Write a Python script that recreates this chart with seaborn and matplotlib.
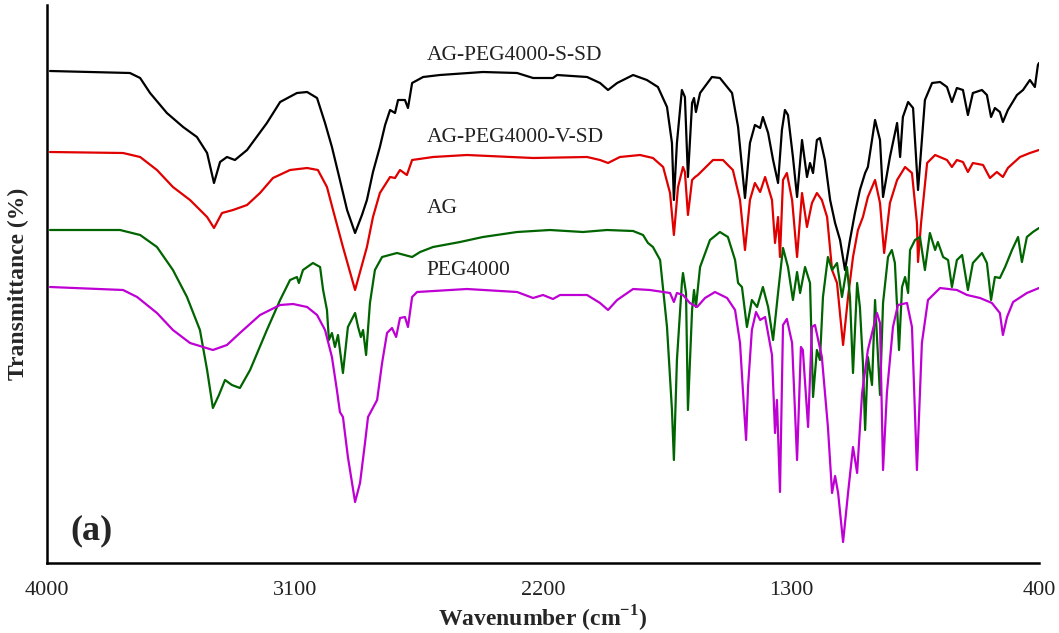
import matplotlib
matplotlib.use("Agg")
import matplotlib.pyplot as plt
import seaborn as sns

# ---- data (wavenumber in cm-1, transmittance in arbitrary offset units) ----
s_sd_wn = [3989, 3699, 3662, 3626, 3565, 3506, 3456, 3419, 3394, 3372, 3347, 3318, 3274, 3202, 3154,
           3093, 3056, 3020, 2991, 2966, 2937, 2911, 2882, 2857, 2839, 2817, 2792, 2773, 2755, 2737,
           2726, 2701, 2690, 2675, 2635, 2574, 2418, 2294, 2236, 2164, 2149, 2040, 1993, 1964, 1931,
           1873, 1823, 1783, 1750, 1732, 1725, 1714, 1696, 1685, 1674, 1659, 1652, 1645, 1630, 1587,
           1558, 1514, 1492, 1467, 1449, 1431, 1412, 1402, 1383, 1365, 1347, 1333, 1322, 1311, 1293,
           1278, 1260, 1242, 1231, 1220, 1206, 1195, 1177, 1158, 1140, 1122, 1104, 1086, 1068, 1050,
           1031, 1021, 995, 977, 966, 941, 915, 904, 894, 875, 857, 839, 825, 814, 788, 759, 734, 716,
           698, 676, 658, 640, 607, 589, 574, 560, 542, 531, 513, 480, 458, 433, 415, 404, 400]
s_sd_t = [492, 490, 485, 470, 450, 436, 426, 410, 380, 401, 406, 403, 413, 440, 461,
          470, 471, 465, 440, 416, 383, 353, 330, 348, 363, 391, 416, 438, 453, 450,
          463, 463, 455, 480, 486, 488, 491, 490, 485, 485, 488, 486, 480, 473, 480,
          488, 483, 476, 456, 420, 363, 420, 473, 466, 386, 460, 465, 451, 470, 486,
          485, 470, 436, 365, 420, 438, 435, 446, 430, 403, 380, 433, 453, 448, 406,
          366, 423, 386, 400, 390, 423, 425, 403, 363, 340, 323, 293, 323, 350, 373,
          390, 396, 443, 423, 366, 406, 440, 406, 446, 461, 455, 373, 423, 463, 480, 481, 476, 461,
          475, 473, 448, 470, 473, 468, 446, 455, 451, 441, 453, 468, 473, 483, 476, 498, 500]

v_sd_wn = [3989, 3724, 3662, 3601, 3543, 3481, 3419, 3394, 3365, 3325, 3274, 3227, 3180, 3118, 3056,
           3017, 2984, 2962, 2926, 2882, 2839, 2817, 2792, 2755, 2737, 2719, 2694, 2675, 2599, 2476,
           2236, 2040, 1993, 1964, 1921, 1848, 1801, 1764, 1739, 1725, 1710, 1692, 1685, 1674, 1659,
           1648, 1638, 1583, 1547, 1511, 1485, 1467, 1449, 1431, 1412, 1394, 1369, 1358, 1347, 1340,
           1329, 1315, 1296, 1278, 1260, 1242, 1224, 1206, 1188, 1169, 1151, 1133, 1111, 1093, 1075,
           1057, 1039, 1021, 995, 977, 962, 941, 915, 886, 861, 843, 839, 828, 806, 777, 734, 716,
           698, 676, 658, 640, 603, 578, 553, 531, 513, 469, 433, 400]
v_sd_t = [411, 410, 406, 393, 376, 363, 346, 335, 350, 353, 358, 370, 385, 393, 395,
          393, 376, 353, 316, 273, 316, 346, 370, 386, 385, 393, 388, 403, 406, 408,
          405, 406, 403, 400, 406, 408, 405, 396, 370, 328, 376, 396, 391, 348, 383,
          386, 388, 403, 403, 393, 363, 313, 363, 380, 371, 386, 363, 320, 346, 306,
          383, 390, 363, 306, 370, 336, 360, 370, 363, 346, 293, 280, 218, 266, 306,
          333, 346, 366, 383, 360, 310, 360, 383, 396, 390, 340, 301, 340, 400, 408, 403, 396,
          403, 401, 391, 400, 398, 385, 391, 386, 395, 406, 410, 413]

ag_wn = [3989, 3735, 3662, 3601, 3543, 3492, 3445, 3419, 3398, 3376, 3354, 3329, 3300, 3263, 3202,
         3154, 3118, 3093, 3086, 3071, 3035, 3009, 2998, 2984, 2977, 2966, 2955, 2944, 2926, 2908,
         2882, 2871, 2861, 2853, 2842, 2828, 2810, 2784, 2730, 2675, 2646, 2599, 2501, 2418, 2294,
         2175, 2055, 1968, 1873, 1837, 1819, 1801, 1775, 1750, 1732, 1725, 1714, 1696, 1692, 1681,
         1674, 1659, 1652, 1645, 1630, 1594, 1558, 1529, 1503, 1492, 1478, 1460, 1442, 1423, 1402,
         1383, 1365, 1347, 1329, 1311, 1293, 1278, 1267, 1249, 1231, 1220, 1206, 1195, 1184, 1166,
         1151, 1133, 1115, 1097, 1086, 1075, 1060, 1050, 1039, 1031, 1021, 1006, 995, 984, 977, 966,
         948, 934, 923, 915, 908, 897, 886, 875, 868, 850, 832, 814, 796, 777, 767, 748, 730, 716,
         698, 679, 658, 640, 607, 589, 574, 560, 542, 523, 498, 476, 462, 444, 422, 400]
ag_t = [333, 333, 328, 316, 293, 266, 233, 193, 155, 168, 183, 178, 175, 193, 233,
        263, 283, 286, 280, 293, 300, 296, 273, 253, 223, 230, 216, 228, 190, 236,
        250, 236, 226, 233, 208, 260, 293, 306, 310, 306, 311, 316, 321, 326, 331,
        333, 331, 333, 332, 328, 320, 316, 303, 236, 153, 103, 203, 280, 290, 270,
        153, 253, 273, 256, 296, 323, 331, 326, 303, 280, 276, 236, 263, 256, 276,
        256, 223, 270, 315, 296, 263, 291, 270, 296, 280, 166, 213, 203, 266, 306,
        293, 300, 266, 296, 266, 190, 280, 256, 200, 133, 206, 178, 263, 206, 168, 260,
        306, 313, 300, 256, 213, 276, 286, 270, 313, 323, 326, 293, 330, 313, 321, 306, 303, 276,
        303, 308, 273, 300, 310, 300, 263, 286, 285, 296, 313, 326, 301, 326, 331, 335]

peg_wn = [3989, 3724, 3673, 3601, 3543, 3481, 3398, 3347, 3300, 3227, 3154, 3107, 3056, 3020, 2991,
          2966, 2948, 2937, 2926, 2908, 2882, 2864, 2846, 2835, 2802, 2784, 2766, 2748, 2733, 2719,
          2701, 2690, 2675, 2657, 2476, 2294, 2236, 2200, 2164, 2138, 2040, 1993, 1964, 1931, 1873,
          1812, 1739, 1725, 1714, 1692, 1667, 1641, 1612, 1576, 1532, 1503, 1485, 1474, 1463, 1456,
          1442, 1427, 1412, 1394, 1369, 1358, 1351, 1340, 1329, 1315, 1296, 1278, 1264, 1257, 1238,
          1224, 1213, 1188, 1166, 1151, 1140, 1129, 1111, 1093, 1075, 1060, 1042, 1021, 988, 977,
          966, 952, 930, 912, 879, 861, 843, 825, 803, 759, 698, 661, 614, 571, 542, 531, 516, 494,
          444, 400]
peg_t = [276, 273, 266, 250, 233, 220, 213, 218, 230, 248, 258, 259, 256, 248, 233,
         206, 173, 151, 146, 106, 61, 80, 120, 146, 163, 200, 230, 235, 226, 245,
         246, 236, 266, 271, 274, 271, 265, 268, 264, 268, 268, 260, 253, 263, 274,
         273, 270, 261, 270, 268, 260, 256, 265, 271, 265, 253, 220, 170, 123, 176,
         233, 251, 243, 246, 208, 130, 163, 71, 238, 244, 220, 103, 216, 213, 136,
         236, 238, 206, 136, 70, 87, 70, 21, 70, 116, 90, 170, 213, 250, 240,
         93, 170, 236, 258, 260, 236, 93, 220, 263, 275, 273, 268, 265, 260, 250, 228, 246, 261,
         270, 275]

series = [
    ("AG-PEG4000-S-SD", s_sd_wn, s_sd_t, "#000000"),
    ("AG-PEG4000-V-SD", v_sd_wn, v_sd_t, "#e00000"),
    ("AG", ag_wn, ag_t, "#006400"),
    ("PEG4000", peg_wn, peg_t, "#bf00d4"),
]
label_ypos = [0.910, 0.763, 0.636, 0.525]

sns.set_style("white")
plt.rcParams["font.family"] = ["Liberation Serif", "DejaVu Serif"]
plt.rcParams["mathtext.fontset"] = "custom"
plt.rcParams["mathtext.rm"] = "Liberation Serif"
plt.rcParams["mathtext.bf"] = "Liberation Serif:bold"

fig = plt.figure(figsize=(10.59, 6.33), dpi=100)
ax = fig.add_axes([47 / 1059, 70 / 633, 992 / 1059, 558 / 633])

for (name, wn, t, col), ly in zip(series, label_ypos):
    sns.lineplot(x=wn, y=t, ax=ax, color=col, linewidth=1.6, sort=False, estimator=None)
    ax.text(0.383, ly, name, transform=ax.transAxes, fontsize=15.5, ha="left", va="center",
            color="#222222")

ax.set_xlim(4000, 400)
ax.set_ylim(0, 558)
ax.set_xticks([4000, 3100, 2200, 1300, 400])
ax.set_xticklabels(["4000", "3100", "2200", "1300", "400"])
ax.set_yticks([])
ax.tick_params(axis="x", direction="in", length=7, width=1.5, labelsize=16, pad=13,
               colors="black", labelcolor="#222222")

for side in ["top", "right"]:
    ax.spines[side].set_visible(False)
for side in ["left", "bottom"]:
    ax.spines[side].set_visible(True)
    ax.spines[side].set_linewidth(1.8)
    ax.spines[side].set_color("black")

ax.set_xlabel(r"Wavenumber (cm$^{\mathbf{-1}}$)", fontsize=17, fontweight="bold")
ax.xaxis.set_label_coords(0.5, -0.073)
ax.set_ylabel("Transmittance (%)", fontsize=17, fontweight="bold")
ax.yaxis.set_label_coords(-0.018, 0.5)

ax.text(0.0235, 0.028, "(a)", transform=ax.transAxes, fontsize=26, fontweight="bold",
        ha="left", va="bottom")

fig.savefig("out.png", dpi=100)
